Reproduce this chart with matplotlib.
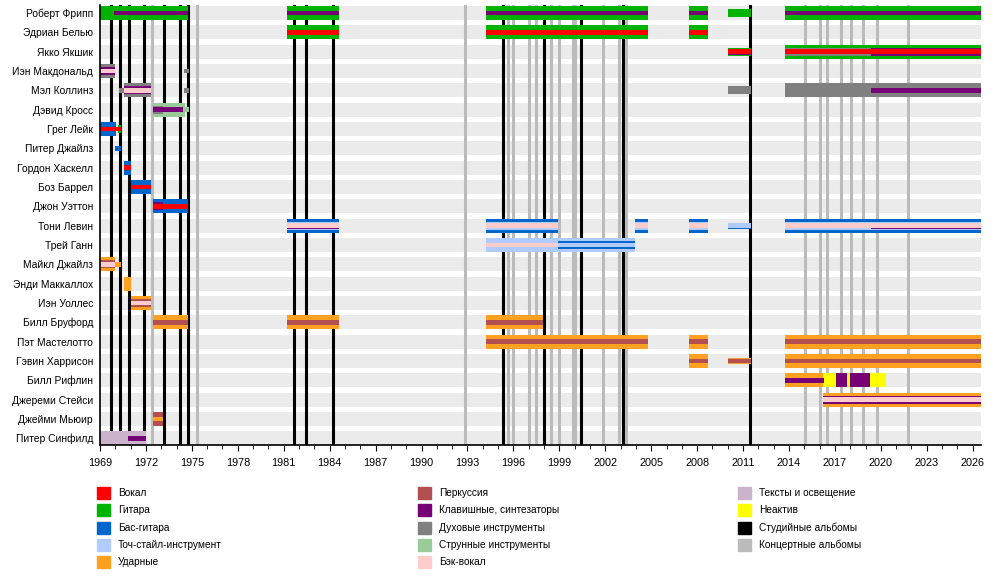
import matplotlib
matplotlib.use("Agg")
import matplotlib.pyplot as plt
from matplotlib.patches import Rectangle

plt.rcParams['font.family'] = ['Liberation Sans', 'DejaVu Sans']

# участники сверху вниз
members = ["Роберт Фрипп", "Эдриан Белью", "Якко Якшик", "Иэн Макдональд",
           "Мэл Коллинз", "Дэвид Кросс", "Грег Лейк", "Питер Джайлз",
           "Гордон Хаскелл", "Боз Баррел", "Джон Уэттон", "Тони Левин",
           "Трей Ганн", "Майкл Джайлз", "Энди Маккаллох", "Иэн Уоллес",
           "Билл Бруфорд", "Пэт Мастелотто", "Гэвин Харрисон", "Билл Рифлин",
           "Джереми Стейси", "Джейми Мьюир", "Питер Синфилд"]

START = 1969.0
END = 2026.54

roles = {
    "vocals": ("Вокал", "#ff0000"),
    "guitar": ("Гитара", "#00b300"),
    "bass": ("Бас-гитара", "#0066cc"),
    "stick": ("Точ-стайл-инструмент", "#b0ccff"),
    "drums": ("Ударные", "#ffa020"),
    "percussion": ("Перкуссия", "#b34f4f"),
    "keys": ("Клавишные, синтезаторы", "#770077"),
    "wind": ("Духовые инструменты", "#808080"),
    "strings": ("Струнные инструменты", "#99cc99"),
    "backing": ("Бэк-вокал", "#ffcccc"),
    "lyrics": ("Тексты и освещение", "#ccb3cc"),
    "inactive": ("Неактив", "#ffff00"),
}

# широкие полосы (основной инструмент)
full_bars = [
    ("Роберт Фрипп", 1969.0, 1974.72, "guitar"),
    ("Роберт Фрипп", 1981.23, 1984.6, "guitar"),
    ("Роберт Фрипп", 1994.2, 2004.8, "guitar"),
    ("Роберт Фрипп", 2007.47, 2008.7, "guitar"),
    ("Роберт Фрипп", 2013.74, END, "guitar"),
    ("Эдриан Белью", 1981.23, 1984.6, "guitar"),
    ("Эдриан Белью", 1994.2, 2004.8, "guitar"),
    ("Эдриан Белью", 2007.47, 2008.7, "guitar"),
    ("Якко Якшик", 2013.74, END, "guitar"),
    ("Иэн Макдональд", 1969.0, 1969.98, "wind"),
    ("Мэл Коллинз", 1970.57, 1972.33, "wind"),
    ("Мэл Коллинз", 2013.74, END, "wind"),
    ("Дэвид Кросс", 1972.46, 1974.55, "strings"),
    ("Грег Лейк", 1969.0, 1970.05, "bass"),
    ("Гордон Хаскелл", 1970.57, 1971.02, "bass"),
    ("Боз Баррел", 1971.02, 1972.33, "bass"),
    ("Джон Уэттон", 1972.46, 1974.75, "bass"),
    ("Тони Левин", 1981.23, 1984.6, "bass"),
    ("Тони Левин", 1994.2, 1998.92, "bass"),
    ("Тони Левин", 2003.94, 2004.8, "bass"),
    ("Тони Левин", 2007.47, 2008.7, "bass"),
    ("Тони Левин", 2013.74, END, "bass"),
    ("Трей Ганн", 1994.2, 2003.94, "stick"),
    ("Майкл Джайлз", 1969.0, 1969.98, "drums"),
    ("Энди Маккаллох", 1970.57, 1971.02, "drums"),
    ("Иэн Уоллес", 1971.02, 1972.33, "drums"),
    ("Билл Бруфорд", 1972.46, 1974.75, "drums"),
    ("Билл Бруфорд", 1981.23, 1984.6, "drums"),
    ("Билл Бруфорд", 1994.2, 1997.93, "drums"),
    ("Пэт Мастелотто", 1994.2, 2004.8, "drums"),
    ("Пэт Мастелотто", 2007.47, 2008.7, "drums"),
    ("Пэт Мастелотто", 2013.74, END, "drums"),
    ("Гэвин Харрисон", 2007.47, 2008.7, "drums"),
    ("Гэвин Харрисон", 2013.74, END, "drums"),
    ("Билл Рифлин", 2013.74, 2016.2, "drums"),
    ("Билл Рифлин", 2016.2, 2017.05, "inactive"),
    ("Билл Рифлин", 2017.05, 2017.79, "keys"),
    ("Билл Рифлин", 2017.79, 2017.98, "inactive"),
    ("Билл Рифлин", 2017.98, 2019.3, "keys"),
    ("Билл Рифлин", 2019.3, 2020.32, "inactive"),
    ("Джереми Стейси", 2016.2, END, "drums"),
    ("Джейми Мьюир", 1972.46, 1973.1, "percussion"),
    ("Питер Синфилд", 1969.0, 1972.0, "lyrics"),
]

# средние полосы
mid_bars = [
    ("Роберт Фрипп", 2010.0, 2011.52, "guitar"),
    ("Якко Якшик", 2010.0, 2011.52, "guitar"),
    ("Якко Якшик", 2013.74, 2019.36, "wind"),
    ("Якко Якшик", 2019.36, END, "keys"),
    ("Иэн Макдональд", 1969.0, 1969.98, "keys"),
    ("Мэл Коллинз", 1970.57, 1972.33, "keys"),
    ("Мэл Коллинз", 2010.0, 2011.52, "wind"),
    ("Дэвид Кросс", 1972.46, 1973.1, "wind"),
    ("Грег Лейк", 1970.18, 1970.37, "guitar"),
    ("Джон Уэттон", 1972.46, 1973.1, "keys"),
    ("Тони Левин", 1981.23, 1984.6, "stick"),
    ("Тони Левин", 1994.2, 1998.92, "stick"),
    ("Тони Левин", 2003.94, 2004.8, "stick"),
    ("Тони Левин", 2007.47, 2008.7, "stick"),
    ("Тони Левин", 2013.74, END, "stick"),
    ("Трей Ганн", 1998.92, 2003.94, "bass"),
    ("Майкл Джайлз", 1969.0, 1969.98, "percussion"),
    ("Иэн Уоллес", 1971.02, 1972.33, "percussion"),
    ("Джереми Стейси", 2016.2, END, "keys"),
]

# узкие полосы
narrow_bars = [
    ("Якко Якшик", 2010.0, 2011.52, "keys"),
    ("Тони Левин", 1981.23, 1984.6, "keys"),
    ("Тони Левин", 2019.36, END, "keys"),
    ("Тони Левин", 2010.0, 2011.52, "bass"),
    ("Гэвин Харрисон", 2010.0, 2011.52, "drums"),
]

# самые тонкие полосы
inner_bars = [
    ("Роберт Фрипп", 1969.93, 1974.72, "keys"),
    ("Роберт Фрипп", 1981.23, 1984.6, "keys"),
    ("Роберт Фрипп", 1994.2, 2004.8, "keys"),
    ("Роберт Фрипп", 2007.47, 2008.7, "keys"),
    ("Роберт Фрипп", 2013.74, END, "keys"),
    ("Эдриан Белью", 1981.23, 1984.6, "vocals"),
    ("Эдриан Белью", 1994.2, 2004.8, "vocals"),
    ("Эдриан Белью", 2007.47, 2008.7, "vocals"),
    ("Якко Якшик", 2010.0, 2011.52, "vocals"),
    ("Якко Якшик", 2013.74, END, "vocals"),
    ("Иэн Макдональд", 1969.0, 1969.98, "backing"),
    ("Иэн Макдональд", 1974.5, 1974.82, "wind"),
    ("Мэл Коллинз", 1970.24, 1970.57, "wind"),
    ("Мэл Коллинз", 1970.57, 1972.33, "backing"),
    ("Мэл Коллинз", 1974.5, 1974.82, "wind"),
    ("Мэл Коллинз", 2019.36, END, "keys"),
    ("Дэвид Кросс", 1972.46, 1974.45, "keys"),
    ("Дэвид Кросс", 1974.55, 1974.82, "strings"),
    ("Грег Лейк", 1969.0, 1970.37, "vocals"),
    ("Питер Джайлз", 1969.98, 1970.37, "bass"),
    ("Гордон Хаскелл", 1970.57, 1971.02, "vocals"),
    ("Боз Баррел", 1971.02, 1972.33, "vocals"),
    ("Джон Уэттон", 1972.46, 1974.75, "vocals"),
    ("Тони Левин", 1981.23, 1984.6, "backing"),
    ("Тони Левин", 1994.2, 1998.92, "backing"),
    ("Тони Левин", 2003.94, 2004.8, "backing"),
    ("Тони Левин", 2007.47, 2008.7, "backing"),
    ("Тони Левин", 2010.0, 2011.52, "stick"),
    ("Тони Левин", 2013.74, END, "backing"),
    ("Трей Ганн", 1994.2, 1998.92, "backing"),
    ("Трей Ганн", 1998.92, 2003.94, "stick"),
    ("Майкл Джайлз", 1969.0, 1969.98, "backing"),
    ("Майкл Джайлз", 1969.98, 1970.37, "drums"),
    ("Иэн Уоллес", 1971.02, 1972.33, "backing"),
    ("Билл Бруфорд", 1972.46, 1974.75, "percussion"),
    ("Билл Бруфорд", 1981.23, 1984.6, "percussion"),
    ("Билл Бруфорд", 1994.2, 1997.93, "percussion"),
    ("Пэт Мастелотто", 1994.2, 2004.8, "percussion"),
    ("Пэт Мастелотто", 2007.47, 2008.7, "percussion"),
    ("Пэт Мастелотто", 2013.74, END, "percussion"),
    ("Гэвин Харрисон", 2007.47, 2008.7, "percussion"),
    ("Гэвин Харрисон", 2010.0, 2011.52, "percussion"),
    ("Гэвин Харрисон", 2013.74, END, "percussion"),
    ("Билл Рифлин", 2013.74, 2016.3, "keys"),
    ("Джереми Стейси", 2016.2, END, "backing"),
    ("Джейми Мьюир", 1972.46, 1973.1, "drums"),
    ("Питер Синфилд", 1970.83, 1972.0, "keys"),
]

studio_albums = [1969.72, 1970.31, 1970.9, 1971.9, 1973.18, 1974.22, 1974.77,
                 1981.7, 1982.46, 1984.2, 1995.34, 1998.02, 2000.44, 2003.18,
                 2011.48]
live_albums = [1972.42, 1975.36, 1992.86, 1995.67, 1996.0, 1997.04, 1997.5,
               1998.47, 1999.0, 1999.86, 2000.05, 2001.87, 2002.92, 2003.38,
               2015.07, 2016.05, 2016.5, 2017.42, 2018.07, 2018.85, 2019.77,
               2021.8]

heights = {"full": 0.724, "mid": 0.42, "narrow": 0.31, "inner": 0.24}

fig = plt.figure(figsize=(10, 5.85), dpi=100)
ax = fig.add_axes([0.1, (585 - 445) / 585, 0.881, 440 / 585])

rows = {name: i for i, name in enumerate(members)}

# фон строк
ax.barh(range(len(members)), END - START, left=START, height=heights["full"],
        color="#ebebeb", zorder=0)

for x in studio_albums:
    ax.axvline(x, color="black", lw=2.2, zorder=1)
for x in live_albums:
    ax.axvline(x, color="#bbbbbb", lw=2.2, zorder=1)

z = 2
for layer, bars in [("full", full_bars), ("mid", mid_bars),
                    ("narrow", narrow_bars), ("inner", inner_bars)]:
    for name, s, e, role in bars:
        ax.barh(rows[name], e - s, left=s, height=heights[layer],
                color=roles[role][1], zorder=z)
    z += 1

ax.set_xlim(START, END)
ax.set_ylim(22.35, -0.41)
ax.set_yticks(range(len(members)))
ax.set_yticklabels(members, fontsize=7.4)
ax.tick_params(axis="y", length=0, pad=5)
ax.set_xticks(range(1969, 2027, 3))
ax.set_xticks(range(1969, 2027), minor=True)
ax.tick_params(axis="x", which="major", length=4, labelsize=7.8, pad=5)
ax.tick_params(axis="x", which="minor", length=3)
for sp in ["top", "right"]:
    ax.spines[sp].set_visible(False)
for sp in ["left", "bottom"]:
    ax.spines[sp].set_linewidth(1.2)
    ax.spines[sp].set_zorder(10)

# легенда
legend_items = [r[0] for r in roles.values()] + ["Студийные альбомы", "Концертные альбомы"]
legend_colors = [r[1] for r in roles.values()] + ["#000000", "#bbbbbb"]
col_x = [97, 418, 738]
for i, (lab, col) in enumerate(zip(legend_items, legend_colors)):
    cx = col_x[i // 5]
    cy = 493 + (i % 5) * 17.3
    fig.add_artist(Rectangle((cx / 1000, 1 - (cy + 6) / 585), 13 / 1000, 12 / 585,
                             transform=fig.transFigure, color=col))
    fig.text((cx + 21) / 1000, 1 - cy / 585, lab, fontsize=7.3, va="center")

fig.savefig("out.png", dpi=100)
